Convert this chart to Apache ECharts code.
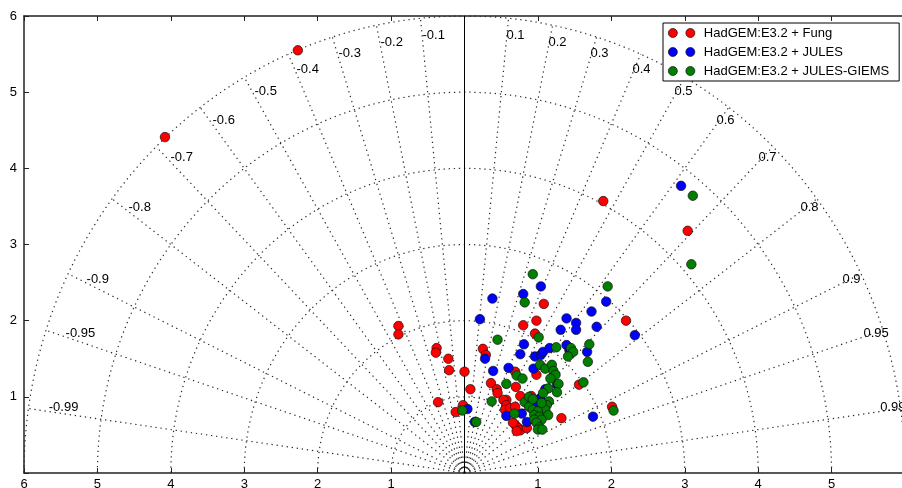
<!DOCTYPE html>
<html><head><meta charset="utf-8">
<script src="https://cdn.jsdelivr.net/npm/echarts@6/dist/echarts.min.js"></script>
<style>html,body{margin:0;padding:0;background:#fff}#c{width:902px;height:488px}</style>
</head><body><div id="c"></div>
<script>
// ---- data (x = sd*cos(theta), y = sd*sin(theta)) ----
const seriesNames = ['HadGEM:E3.2 + Fung', 'HadGEM:E3.2 + JULES', 'HadGEM:E3.2 + JULES-GIEMS'];
const seriesColors = ['#ff0000', '#0000ff', '#007f00'];

const fungPoints = [
  [-2.27,5.55],[-4.08,4.41],[1.89,3.57],[3.04,3.18],[2.20,2.00],[2.01,0.87],[1.32,0.72],[1.56,1.16],
  [-0.90,1.93],[-0.90,1.82],[-0.38,1.64],[-0.39,1.58],[-0.22,1.50],[-0.21,1.35],[0.00,1.33],[0.08,1.10],
  [-0.36,0.93],[-0.02,0.89],[-0.12,0.80],
  [1.08,2.22],[0.98,2.00],[0.80,1.94],[0.96,1.83],[0.25,1.63],[0.29,1.55],[0.98,1.29],[0.69,1.33],
  [0.36,1.18],[0.44,1.10],[0.45,1.05],[0.70,1.13],[0.76,1.01],[0.91,1.01],[0.57,0.96],[0.53,0.96],
  [0.57,0.89],[0.55,0.83],[0.62,0.85],[0.69,0.87],[0.70,0.62],[0.73,0.59],[0.76,0.56],[0.71,0.55],
  [0.85,0.59],[0.66,0.66]
];
const julesPoints = [
  [2.95,3.77],[1.93,2.25],[2.32,1.81],
  [0.38,2.29],[0.21,2.02],[0.80,2.35],[1.04,2.45],[1.73,2.12],[1.39,2.03],[1.52,1.97],[1.52,1.88],
  [1.80,1.92],[1.31,1.88],[0.81,1.69],[0.76,1.56],[0.96,1.53],[1.04,1.55],[1.07,1.59],[1.16,1.64],
  [1.39,1.68],[1.43,1.61],[1.67,1.59],[0.28,1.50],[0.39,1.34],[0.60,1.38],[0.94,1.37],[1.75,0.74],
  [1.03,0.98],[0.96,0.94],[0.89,0.87],[0.78,0.78],[0.85,0.67],[0.57,0.75],[1.26,1.16],[0.04,0.84],
  [0.14,0.67],[1.00,0.90],[1.10,1.10]
];
const giemsPoints = [
  [3.11,3.64],[3.09,2.74],[1.95,2.45],[0.93,2.61],[0.82,2.24],[1.01,1.78],[0.45,1.75],[1.25,1.65],
  [1.45,1.64],[1.48,1.59],[1.70,1.69],[1.41,1.53],[1.68,1.46],[1.03,1.42],[1.10,1.37],[1.19,1.42],
  [1.21,1.34],[0.71,1.28],[0.79,1.24],[1.24,1.29],[1.17,1.24],[1.28,1.17],[1.26,1.06],[0.57,1.17],
  [0.37,0.94],[1.14,1.11],[1.07,1.05],[1.15,0.94],[1.12,0.89],[1.10,0.83],[1.14,0.76],[0.82,0.93],
  [0.88,0.87],[0.93,0.83],[1.00,0.81],[0.95,0.76],[1.02,0.74],[0.95,0.70],[1.05,0.70],[0.98,0.66],
  [1.02,0.60],[1.00,0.57],[1.06,0.57],[1.62,1.19],[2.03,0.82],[0.68,0.78],[0.16,0.67],[-0.03,0.82],
  [0.88,1.00],[0.93,0.97],[1.05,0.92]
];

// ---- axes / grid values ----
const axisMax = 6;
const stdRadii = [1, 2, 3, 4, 5, 6];
const corrValues = [-0.99,-0.95,-0.9,-0.8,-0.7,-0.6,-0.5,-0.4,-0.3,-0.2,-0.1,
                    0.1,0.2,0.3,0.4,0.5,0.6,0.7,0.8,0.9,0.95,0.99];
const corrLabelRadius = 5.72;

// ---- build helpers ----
const dotted = { color: '#2a2a2a', width: 1.2, type: [1.3, 3.8] };
const gridSeries = [];
stdRadii.forEach(r => {
  const pts = [];
  for (let a = 0; a <= 180; a += 1) {
    const t = a * Math.PI / 180;
    pts.push([r * Math.cos(t), r * Math.sin(t)]);
  }
  gridSeries.push({ type: 'line', data: pts, showSymbol: false, symbol: 'none', silent: true,
    lineStyle: dotted, z: 1, animation: false, clip: false });
});
corrValues.forEach(c => {
  const s = Math.sqrt(1 - c * c);
  gridSeries.push({ type: 'line', data: [[0, 0], [axisMax * c, axisMax * s]], showSymbol: false,
    symbol: 'none', silent: true, lineStyle: dotted, z: 1, animation: false });
});
const corrLabelData = corrValues.map(c => ({
  name: String(c),
  value: [corrLabelRadius * c, corrLabelRadius * Math.sqrt(1 - c * c)]
}));

const ptsStyle = (i) => ({ color: seriesColors[i], borderColor: '#111', borderWidth: 0.7, opacity: 1 });
const font = 'Liberation Sans';

const option = {
  animation: false,
  backgroundColor: '#fff',
  textStyle: { fontFamily: font },
  grid: { left: 24, top: 16, width: 881, height: 457, containLabel: false, outerBoundsMode: 'none' },
  xAxis: [{
    type: 'value', min: -6, max: 6, interval: 1,
    axisLine: { show: true, onZero: false, lineStyle: { color: '#222', width: 1.5 } },
    axisTick: { show: true, inside: true, length: 5, lineStyle: { color: '#222' } },
    axisLabel: { color: '#000', fontSize: 13, fontFamily: font, margin: 5,
      formatter: v => (v === 0 || v === 6) ? '' : String(Math.abs(v)) },
    splitLine: { show: false }
  }, {
    type: 'value', min: -6, max: 6, interval: 1, position: 'top',
    axisLine: { show: true, onZero: false, lineStyle: { color: '#222', width: 1.5 } },
    axisTick: { show: true, inside: true, length: 5, lineStyle: { color: '#222' } },
    axisLabel: { show: false }, splitLine: { show: false }
  }],
  yAxis: [{
    type: 'value', min: 0, max: 6, interval: 1,
    axisLine: { show: true, onZero: false, lineStyle: { color: '#222', width: 1.5 } },
    axisTick: { show: true, inside: true, length: 5, lineStyle: { color: '#222' } },
    axisLabel: { color: '#000', fontSize: 13, fontFamily: font, margin: 7,
      formatter: v => v === 0 ? '' : String(v) },
    splitLine: { show: false }
  }],
  legend: {
    orient: 'vertical', left: 663, top: 23,
    padding: [3, 10, 3, 5], itemGap: 5,
    backgroundColor: '#fff', borderColor: '#000', borderWidth: 1, borderRadius: 0,
    itemWidth: 26.5, itemHeight: 9,
    icon: 'path://M0,4.5A4.5,4.5,0,1,0,9,4.5A4.5,4.5,0,1,0,0,4.5ZM17.5,4.5A4.5,4.5,0,1,0,26.5,4.5A4.5,4.5,0,1,0,17.5,4.5Z',
    itemStyle: { borderColor: '#111', borderWidth: 0.7, opacity: 1 },
    textStyle: { color: '#000', fontSize: 13, fontFamily: font, lineHeight: 14, padding: [0, 0, 0, 4] },
    data: seriesNames
  },
  series: [
    ...gridSeries,
    { type: 'line', data: [[0, 0], [0, axisMax]], showSymbol: false, symbol: 'none', silent: true,
      lineStyle: { color: '#000', width: 1 }, z: 2 },
    { type: 'scatter', data: corrLabelData, symbolSize: 0, silent: true, z: 3,
      itemStyle: { opacity: 1 },
      label: { show: true, position: 'right', distance: 0, offset: [0, -4], formatter: p => p.name,
        color: '#000', fontSize: 13, fontFamily: font } },
    { name: seriesNames[0], type: 'scatter', data: fungPoints, symbol: 'circle', symbolSize: 9.5,
      itemStyle: ptsStyle(0), z: 5 },
    { name: seriesNames[1], type: 'scatter', data: julesPoints, symbol: 'circle', symbolSize: 9.5,
      itemStyle: ptsStyle(1), z: 6 },
    { name: seriesNames[2], type: 'scatter', data: giemsPoints, symbol: 'circle', symbolSize: 9.5,
      itemStyle: ptsStyle(2), z: 7 }
  ]
};
echarts.init(document.getElementById('c')).setOption(option);
</script></body></html>
